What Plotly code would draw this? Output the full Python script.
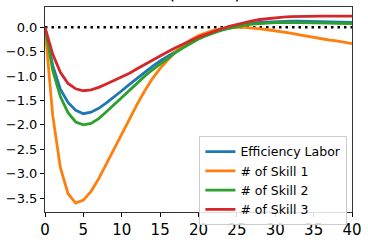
import plotly.graph_objects as go

t = list(range(41))

eff_labor = [0, -0.78, -1.27, -1.54, -1.70, -1.77, -1.74, -1.66, -1.55, -1.43,
             -1.30, -1.17, -1.04, -0.92, -0.80, -0.69, -0.59, -0.49, -0.40, -0.31,
             -0.23, -0.16, -0.10, -0.05, -0.01, 0.03, 0.06, 0.08, 0.10, 0.11,
             0.12, 0.12, 0.125, 0.125, 0.12, 0.12, 0.115, 0.11, 0.11, 0.105, 0.10]
skill1 = [0, -1.80, -2.87, -3.41, -3.60, -3.54, -3.36, -3.10, -2.80, -2.49,
          -2.18, -1.88, -1.58, -1.30, -1.05, -0.84, -0.66, -0.50, -0.37, -0.26,
          -0.17, -0.11, -0.06, -0.03, -0.01, 0.0, 0.0, -0.01, -0.03, -0.05,
          -0.07, -0.10, -0.12, -0.15, -0.18, -0.20, -0.23, -0.26, -0.28, -0.31, -0.335]
skill2 = [0, -0.88, -1.42, -1.75, -1.94, -2.00, -1.97, -1.87, -1.73, -1.58,
          -1.43, -1.28, -1.14, -1.00, -0.87, -0.75, -0.63, -0.52, -0.42, -0.33,
          -0.24, -0.17, -0.11, -0.06, -0.02, 0.02, 0.045, 0.065, 0.08, 0.09,
          0.095, 0.10, 0.10, 0.10, 0.095, 0.09, 0.09, 0.085, 0.08, 0.08, 0.076]
skill3 = [0, -0.55, -0.92, -1.15, -1.26, -1.30, -1.28, -1.23, -1.16, -1.09,
          -1.02, -0.94, -0.85, -0.76, -0.67, -0.58, -0.50, -0.42, -0.34, -0.27,
          -0.20, -0.14, -0.08, -0.03, 0.02, 0.06, 0.10, 0.13, 0.16, 0.18,
          0.20, 0.21, 0.22, 0.225, 0.228, 0.228, 0.228, 0.228, 0.228, 0.228, 0.228]

series_names = ["Efficiency Labor", "# of Skill 1", "# of Skill 2", "# of Skill 3"]
series_data = [eff_labor, skill1, skill2, skill3]
colors = ["#1f77b4", "#ff7f0e", "#2ca02c", "#d62728"]
title_text = "Y (% dev)"

fig = go.Figure()
fig.add_trace(go.Scatter(x=[0, 40], y=[0, 0], mode="lines", showlegend=False,
                         line=dict(color="black", width=2.5, dash="2.5px,4px"),
                         hoverinfo="skip"))
for name, data, c in zip(series_names, series_data, colors):
    fig.add_trace(go.Scatter(x=t, y=data, mode="lines", name=name,
                             line=dict(color=c, width=2.8)))

fig.update_layout(
    width=368, height=245,
    margin=dict(l=45, r=10, t=6, b=17),
    paper_bgcolor="white", plot_bgcolor="white",
    font=dict(family="DejaVu Sans", color="black"),
    showlegend=True,
    legend=dict(x=0.985, y=-0.063, xanchor="right", yanchor="bottom",
                bgcolor="rgba(255,255,255,0.85)", bordercolor="#cccccc", borderwidth=1,
                font=dict(size=12.5, family="DejaVu Sans"), itemwidth=30,
                tracegroupgap=0),
    annotations=[dict(text=title_text, xref="paper", yref="paper", x=0.49, y=1,
                      xanchor="center", yanchor="bottom", yshift=2, showarrow=False,
                      font=dict(size=19, family="DejaVu Sans", color="black"))],
)
fig.update_xaxes(range=[0, 40], dtick=5, tick0=0, showgrid=False, zeroline=False,
                 showline=True, linecolor="#333", linewidth=1, mirror=True,
                 ticks="outside", ticklen=4, tickcolor="black",
                 ticklabeloverflow="allow",
                 tickfont=dict(size=15, family="DejaVu Sans", color="black"))
fig.update_yaxes(range=[-3.784, 0.416], dtick=0.5, tick0=0, tickformat=".1f",
                 showgrid=False, zeroline=False,
                 showline=True, linecolor="#333", linewidth=1, mirror=True,
                 ticks="outside", ticklen=4, tickcolor="black",
                 ticklabeloverflow="allow",
                 tickfont=dict(size=13, family="DejaVu Sans", color="black"))

fig.write_html("out.html", config={"displayModeBar": False},
               post_script="document.body.style.margin='0';")
